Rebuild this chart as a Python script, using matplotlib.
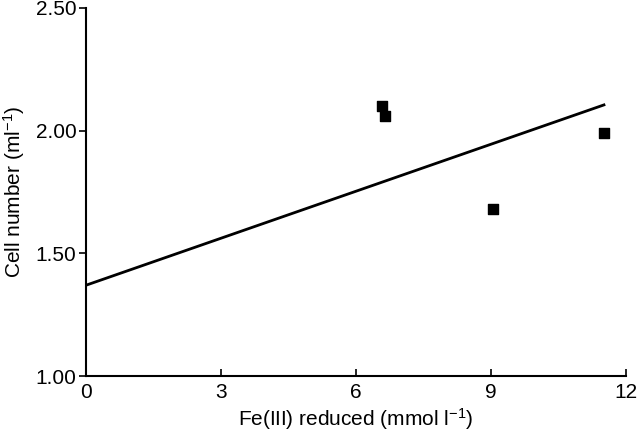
import matplotlib
matplotlib.use("Agg")
import matplotlib.pyplot as plt

# data
fe_reduced = [6.57, 6.65, 9.04, 11.51]
cell_number = [2.10, 2.06, 1.68, 1.99]

line_x = [0.0, 11.51]
line_y = [1.37, 2.105]

x_ticks = [0, 3, 6, 9, 12]
y_ticks = [1.00, 1.50, 2.00, 2.50]

plt.rcParams["font.family"] = ["Liberation Sans", "DejaVu Sans"]
plt.rcParams["mathtext.default"] = "regular"

W, H = 637, 436
left, right, top, bottom = 86, 626, 8, 376

fig = plt.figure(figsize=(W / 100, H / 100), dpi=100)
ax = fig.add_axes([left / W, 1 - bottom / H, (right - left) / W, (bottom - top) / H])

ax.plot(line_x, line_y, color="black", lw=2)
ax.scatter(fe_reduced, cell_number, marker="s", s=45, color="black", zorder=3)

ax.set_xlim(0, 12)
ax.set_ylim(1.0, 2.5)
ax.set_xticks(x_ticks)
ax.set_yticks(y_ticks)
ax.set_yticklabels([f"{v:.2f}" for v in y_ticks])

for s in ["top", "right"]:
    ax.spines[s].set_visible(False)
for s in ["left", "bottom"]:
    ax.spines[s].set_linewidth(1.5)

ax.tick_params(axis="x", direction="in", length=5, width=1.2, labelsize=15, pad=5)
ax.tick_params(axis="y", direction="out", length=5, width=1.2, labelsize=15, pad=2)

ax.set_xlabel("Fe(III) reduced (mmol l$^{-1}$)", fontsize=15, labelpad=3)
ax.set_ylabel("Cell number (ml$^{-1}$)", fontsize=15, labelpad=6)

fig.savefig("out.png", dpi=100)
